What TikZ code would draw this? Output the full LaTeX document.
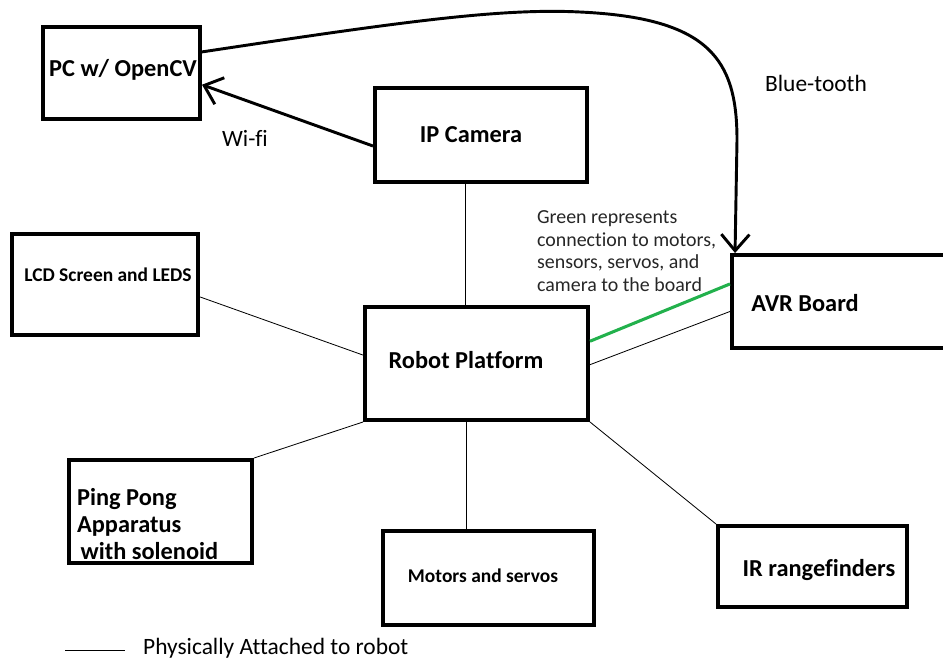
\documentclass[tikz,border=0pt]{standalone}
\usepackage{fontspec}
\setmainfont{Carlito}[Ligatures=CommonOff]
\usetikzlibrary{arrows.meta, fit}
\definecolor{paintgreen}{RGB}{34,177,76}

\begin{document}
\begin{tikzpicture}[x=0.03cm, y=-0.03cm,
  box/.style={draw, line width=3.4pt, inner sep=0pt, fit={#1}},
  big/.style={font=\fontsize{20.8}{23}\selectfont\bfseries},
  small/.style={font=\fontsize{16.6}{18}\selectfont\bfseries},
  plain/.style={font=\fontsize{20}{22}\selectfont},
  link/.style={line width=0.7pt},
  radio/.style={line width=2.5pt, -{Straight Barb[length=14pt, width=24pt]}}
]

\useasboundingbox (0,0) rectangle (943,661);

% boxes
\node[box={(43,27) (200,119)}] (pc) {};
\node[box={(375,88) (587,182)}] (ipcam) {};
\node[box={(12,234) (198,335)}] (lcd) {};
\node[box={(365,307) (588,420)}] (robot) {};
\node[box={(732,255) (952,348)}] (avr) {};
\node[box={(69,460) (252,563)}] (pingpong) {};
\node[box={(383,531) (594,625)}] (motors) {};
\node[box={(718,526) (907,607)}] (ir) {};

% box texts
\node[big] at (123,70) (pctext) {PC w/ OpenCV};
\node[big] at (471,135) (ipcamtext) {IP Camera};
\node[small] at (108,275) (lcdtext) {LCD Screen and LEDS};
\node[big] at (466,360) (robottext) {Robot Platform};
\node[big] at (805,303) (avrtext) {AVR Board};
\node[big, anchor=west, align=left] at (73,524) (pingpongtext)
  {Ping Pong\\Apparatus\\\hspace{3pt}with solenoid};
\node[small] at (483,576) (motorstext) {Motors and servos};
\node[big] at (819,570) (irtext) {IR rangefinders};

% wireless links
\draw[radio] ([yshift=-9.4pt]ipcam.west) -- ([yshift=-10pt]pc.east);
\draw[radio] ([yshift=18pt]pc.east) .. controls (400,22) and (500,8) .. (580,12)
  .. controls (710,18) and (737,60) .. (737,140) -- ([xshift=4.3pt]avr.north west);
\node[plain] at (245,138) (wifi) {Wi-fi};
\node[plain] at (816,83) (bluetooth) {Blue-tooth};

% physical links
\draw[link] ([xshift=-13.6pt]ipcam.south) coordinate (camfoot) -- (camfoot |- robot.north);
\draw[link] ([xshift=-9pt]robot.south) coordinate (robotfoot) -- (robotfoot |- motors.north);
\draw[link] ([yshift=-10.6pt]lcd.east) -- ([yshift=7.2pt]robot.west);
\draw[link] (pingpong.north east) -- (robot.south west);
\draw[link] (robot.south east) -- (ir.north west);
\draw[link] ([yshift=-1pt]robot.east) -- ([yshift=-8.5pt]avr.west);

% board connection
\draw[line width=2.6pt, paintgreen] ([yshift=19pt]robot.east) -- ([yshift=15pt]avr.west);
\node[anchor=west, align=left, font=\fontsize{17}{19.3}\selectfont, black!85] at (533,251) (greennote)
  {Green represents\\connection to motors,\\sensors, servos, and\\camera to the board};

% legend
\coordinate (legstart) at (65,650);
\coordinate (legend) at (125,650);
\draw[link] (legstart) -- (legend);
\node[plain, anchor=west] at (139,648) (legendtext) {Physically Attached to robot};

\end{tikzpicture}
\end{document}
